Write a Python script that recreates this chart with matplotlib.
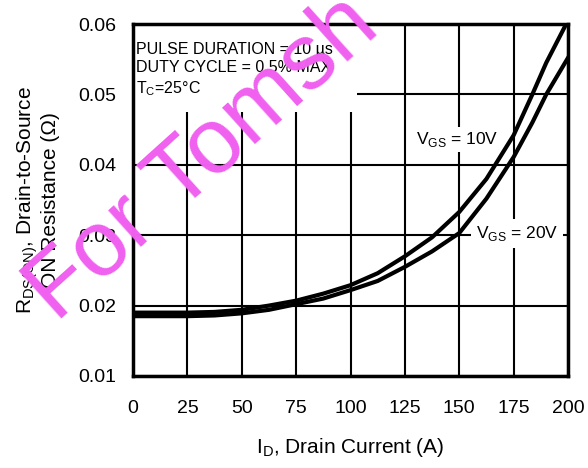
import matplotlib
matplotlib.use('Agg')
import matplotlib.pyplot as plt
from matplotlib.patches import Rectangle

fam = 'Liberation Sans'
plt.rcParams['font.family'] = [fam, 'DejaVu Sans']
plt.rcParams['mathtext.fontset'] = 'custom'
plt.rcParams['mathtext.rm'] = fam

# drain current (A) and RDS(on) (ohm)
id_a = [0, 12.5, 25, 37.5, 50, 62.5, 75, 87.5, 100, 112.5, 125, 137.5, 150, 162.5, 175, 183.6, 190, 200]
rds_10v = [0.0190, 0.0190, 0.0190, 0.0191, 0.0194, 0.0200, 0.0207, 0.0217, 0.0229, 0.0246,
           0.0270, 0.0297, 0.0333, 0.0380, 0.0442, 0.0500, 0.0545, 0.0605]
rds_20v = [0.0185, 0.0185, 0.0185, 0.0186, 0.0189, 0.0194, 0.0202, 0.0210, 0.0222, 0.0235,
           0.0255, 0.0277, 0.0303, 0.0352, 0.0411, 0.0460, 0.0500, 0.0552]

xticks = [0, 25, 50, 75, 100, 125, 150, 175, 200]
yticks = [0.01, 0.02, 0.03, 0.04, 0.05, 0.06]

fig = plt.figure(figsize=(5.88, 4.68), dpi=100)
ax = fig.add_axes([0.2262, 0.1966, 0.7398, 0.7521])

ax.plot(id_a, rds_10v, color='black', lw=3, zorder=4)
ax.plot(id_a, rds_20v, color='black', lw=3, zorder=4)

ax.set_xlim(0, 200)
ax.set_ylim(0.01, 0.06)
ax.set_xticks(xticks)
ax.set_yticks(yticks)
ax.set_xticklabels([str(t) for t in xticks])
ax.set_yticklabels(['%.2f' % t for t in yticks])
ax.tick_params(length=0, labelsize=14)
ax.tick_params(axis='x', pad=17)
ax.tick_params(axis='y', pad=12)
ax.grid(True, color='black', lw=1.5)
ax.set_axisbelow(True)
for s in ax.spines.values():
    s.set_linewidth(2.5)
    s.set_zorder(5)

# white area behind the test conditions text
ax.add_patch(Rectangle((0, 0.0475), 103, 0.0125, facecolor='white', edgecolor='none', zorder=2))
ax.text(1.2, 0.0575, 'PULSE DURATION = 10 \u00b5s\nDUTY CYCLE = 0.5% MAX\nT$_\\mathregular{C}$=25\u00b0C',
        fontsize=11.5, va='top', ha='left', linespacing=1.3, zorder=3)

ax.text(130, 0.0436, 'V$_\\mathregular{GS}$ = 10V', fontsize=12.5, va='center', ha='left', zorder=3,
        bbox=dict(facecolor='white', edgecolor='none', pad=2))
ax.text(157.5, 0.0302, 'V$_\\mathregular{GS}$ = 20V', fontsize=12.5, va='center', ha='left', zorder=3,
        bbox=dict(facecolor='white', edgecolor='none', pad=3.5))

ax.set_xlabel('I$_\\mathregular{D}$, Drain Current (A)', fontsize=15, labelpad=14)
ax.set_ylabel('R$_\\mathregular{DS(ON)}$, Drain-to-Source\nON Resistance (\u03a9)', fontsize=15,
              labelpad=13, linespacing=1.05)

# watermark
fig.text(0.095, 0.31, 'For Tomsh', fontsize=67, color='#f060f0', rotation=42,
         rotation_mode='anchor', ha='left', va='baseline', family='Liberation Sans',
         zorder=10)

fig.savefig('out.png', dpi=100)
